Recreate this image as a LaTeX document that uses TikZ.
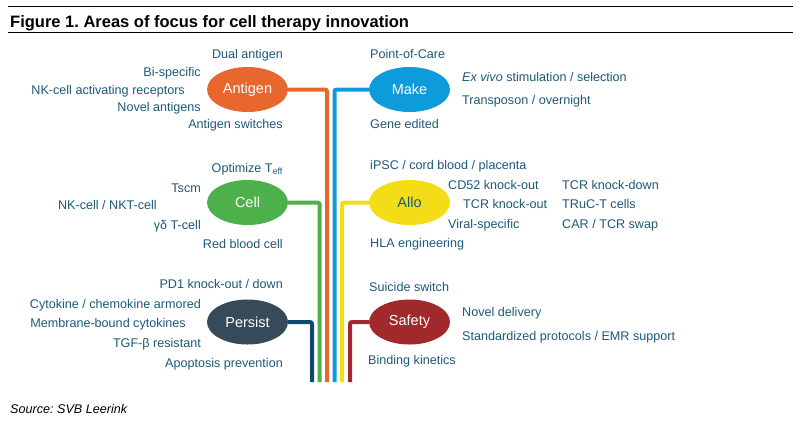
\documentclass[tikz,border=0pt]{standalone}
\usepackage{fontspec}
\setmainfont{Liberation Sans}
\usetikzlibrary{shapes.geometric}
\frenchspacing
\definecolor{txt}{HTML}{1D5878}
\definecolor{cOrange}{HTML}{E8672D}
\definecolor{cBlue}{HTML}{0D9BDB}
\definecolor{cGreen}{HTML}{4DB04A}
\definecolor{cYellow}{HTML}{F2DD16}
\definecolor{cSlate}{HTML}{374A59}
\definecolor{cNavy}{HTML}{0F4A6A}
\definecolor{cRed}{HTML}{A1292B}
\tikzset{
  lbl/.style={inner sep=0pt, text=txt, font=\fontsize{12.6}{15}\selectfont, yshift=-2.5pt},
  le/.style={lbl, anchor=mid east},
  lw/.style={lbl, anchor=mid west},
  hub/.style={ellipse, minimum width=81pt, minimum height=45pt, inner sep=0pt, text=white, font=\fontsize{14.5}{17}\selectfont},
  link/.style={line width=4pt, rounded corners=2pt, line cap=butt}
}
\begin{document}
\begin{tikzpicture}[x=1pt,y=-1pt]
\useasboundingbox (0,0) rectangle (800,424);
% title
\coordinate (t1a) at (8,6); \coordinate (t1b) at (793,6);
\coordinate (t2a) at (8,32); \coordinate (t2b) at (793,32);
\draw[line width=1pt] (t1a) -- (t1b);
\draw[line width=1pt] (t2a) -- (t2b);
\node[anchor=mid west, inner sep=0pt, yshift=-3pt, font=\fontsize{16.5}{19}\bfseries] (title) at (10,22) {Figure 1. Areas of focus for cell therapy innovation};
% hubs
\node[hub, fill=cOrange] (antigen) at (247.5,89.5) {Antigen};
\node[hub, fill=cBlue] (make) at (409.5,89.5) {Make};
\node[hub, fill=cGreen] (cell) at (247.5,202.5) {Cell};
\node[hub, fill=cYellow, text=txt] (allo) at (409.5,202.5) {Allo};
\node[hub, fill=cSlate] (persist) at (247.5,322) {Persist};
\node[hub, fill=cRed] (safety) at (409.5,322) {Safety};
% bottom ends
\coordinate (bP) at (312,382);
\coordinate (bG) at (319.5,382);
\coordinate (bO) at (327,382);
\coordinate (bB) at (334.5,382);
\coordinate (bY) at (342,382);
\coordinate (bR) at (350,382);
\draw[link, cNavy] (persist.east) -| (bP);
\draw[link, cGreen] (cell.east) -| (bG);
\draw[link, cOrange] (antigen.east) -| (bO);
\draw[link, cBlue] (make.west) -| (bB);
\draw[link, cYellow] (allo.west) -| (bY);
\draw[link, cRed] (safety.west) -| (bR);
% Antigen labels
\node[le] (a1) at (283,53) {Dual antigen};
\node[le] (a2) at (201,71) {Bi-specific};
\node[le] (a3) at (185,89) {NK-cell activating receptors};
\node[le] (a4) at (201,106) {Novel antigens};
\node[le] (a5) at (283,123) {Antigen switches};
% Make labels
\node[lw] (m1) at (370,53) {Point-of-Care};
\node[lw] (m2) at (462,76) {\textit{Ex vivo} stimulation / selection};
\node[lw] (m3) at (462,99) {Transposon / overnight};
\node[lw] (m4) at (370,123) {Gene edited};
% Cell labels
\node[le] (c1) at (283,167) {Optimize T\textsubscript{eff}};
\node[le] (c2) at (201,187) {Tscm};
\node[le] (c3) at (157,204) {NK-cell / NKT-cell};
\node[le] (c4) at (201,224) {γδ T-cell};
\node[le] (c5) at (283,243) {Red blood cell};
% Allo labels
\node[lw] (l1) at (370,164) {iPSC / cord blood / placenta};
\node[lw] (l2) at (448,184) {CD52 knock-out};
\node[lw] (l3) at (463,203) {TCR knock-out};
\node[lw] (l4) at (448,223) {Viral-specific};
\node[lw] (l5) at (370,242) {HLA engineering};
\node[lw] (l6) at (562,184) {TCR knock-down};
\node[lw] (l7) at (562,203) {TRuC-T cells};
\node[lw] (l8) at (562,223) {CAR / TCR swap};
% Persist labels
\node[le] (p1) at (283,283) {PD1 knock-out / down};
\node[le] (p2) at (201,303) {Cytokine / chemokine armored};
\node[le] (p3) at (186,322) {Membrane-bound cytokines};
\node[le] (p4) at (201,342) {TGF-β resistant};
\node[le] (p5) at (283,362) {Apoptosis prevention};
% Safety labels
\node[lw] (s1) at (369,286) {Suicide switch};
\node[lw] (s2) at (462,311) {Novel delivery};
\node[lw] (s3) at (462,335) {Standardized protocols / EMR support};
\node[lw] (s4) at (368,359) {Binding kinetics};
% source
\node[anchor=mid west, inner sep=0pt, yshift=-3pt, font=\fontsize{12.6}{15}\itshape] (src) at (10,408) {Source: SVB Leerink};
\end{tikzpicture}
\end{document}
